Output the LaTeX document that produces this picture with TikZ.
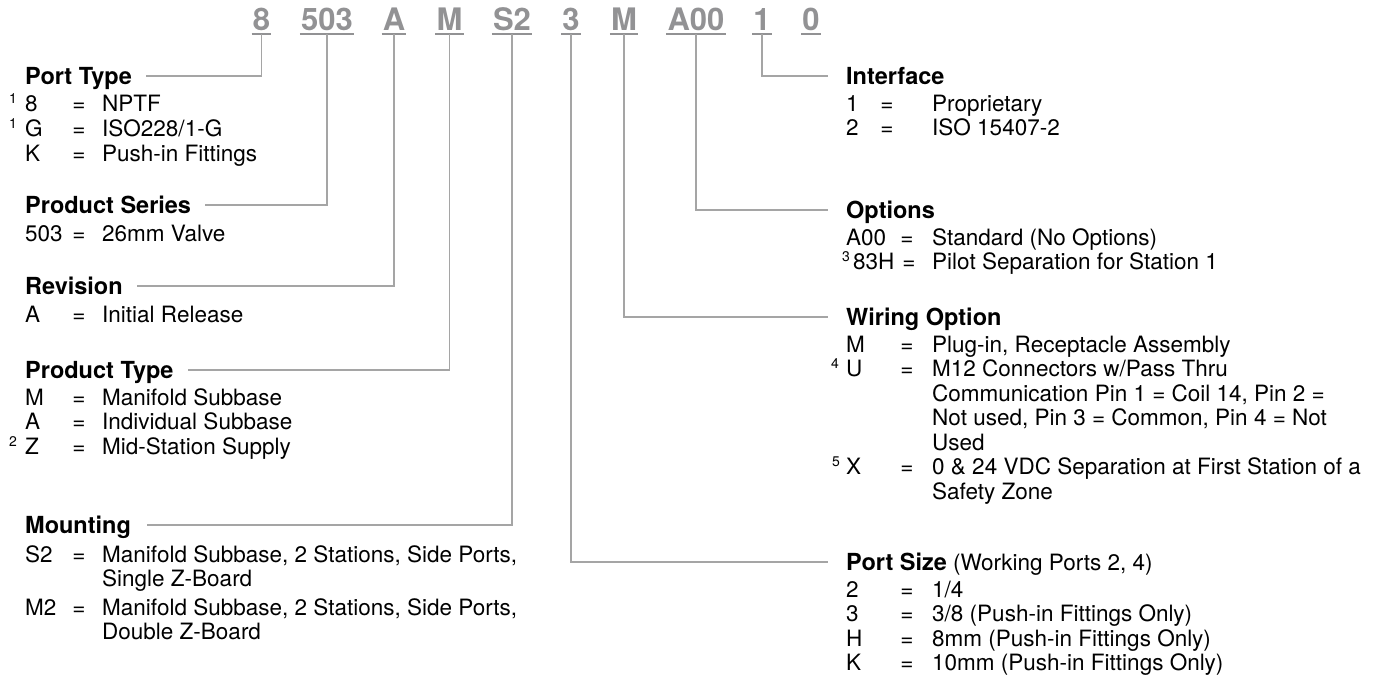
\documentclass[tikz,border=0pt]{standalone}
\usepackage{fontspec}
\setmainfont{TeX Gyre Heros}
\definecolor{codegray}{RGB}{146,146,148}
\definecolor{linegray}{RGB}{165,165,165}
\tikzset{
  body/.style={font=\fontsize{22.5}{24.5}\selectfont, inner sep=0pt, anchor=base west},
  eqs/.style={font=\fontsize{22.5}{24.5}\selectfont, inner sep=0pt, anchor=base},
  hdr/.style={font=\fontsize{23.5}{26}\selectfont\bfseries, inner sep=0pt, anchor=base west, text height=17pt, text depth=0pt},
  supx/.style={font=\fontsize{14}{16}\selectfont, inner sep=0pt, anchor=base east},
  codeitem/.style={font=\fontsize{31}{34}\selectfont\bfseries, text=codegray, inner xsep=1pt, inner ysep=3.5pt, text height=22.3pt, text depth=0pt, anchor=base},
  uline/.style={draw=codegray, line width=1.6pt},
  conn/.style={draw=linegray, line width=1.2pt},
}
\newcommand{\krow}[7]{%
  \node[body] (#1c) at (#2,#5) {#6};
  \node[eqs] (#1e) at (#3,#5) {=};
  \node[body] (#1v) at (#4,#5) {#7};}
\begin{document}
\begin{tikzpicture}[x=1pt,y=-1pt]
\useasboundingbox (0,0) rectangle (1378,694);
% code row
\node[codeitem] (c8) at (261.5,30) {8};
\node[codeitem] (c503) at (327,30) {503};
\node[codeitem] (cA) at (394,30) {A};
\node[codeitem] (cM) at (449.5,30) {M};
\node[codeitem] (cS) at (512,30) {S2};
\node[codeitem] (c3) at (571,30) {3};
\node[codeitem] (cW) at (624,30) {M};
\node[codeitem] (cO) at (696,30) {A00};
\node[codeitem] (c1) at (762,30) {1};
\node[codeitem] (c0) at (811,30) {0};
\foreach \n in {c8,c503,cA,cM,cS,c3,cW,cO,c1,c0}
  \draw[uline] (\n.south west) -- (\n.south east);

% left column
\node[hdr] (hPort) at (25,84.5) {Port Type};
\krow{pa}{25}{79}{102}{111}{8}{NPTF}
\krow{pb}{25}{79}{102}{136}{G}{ISO228/1-G}
\krow{pc}{25}{79}{102}{161}{K}{Push-in Fittings}
\node[supx] (spa) at (17,103) {1};
\node[supx] (spb) at (17,128) {1};

\node[hdr] (hSer) at (25,213.5) {Product Series};
\krow{sa}{25}{79}{102}{241}{503}{26mm Valve}

\node[hdr] (hRev) at (25,294.5) {Revision};
\krow{ra}{25}{79}{102}{322}{A}{Initial Release}

\node[hdr] (hTyp) at (25,378.5) {Product Type};
\krow{ta}{25}{79}{102}{405}{M}{Manifold Subbase}
\krow{tb}{25}{79}{102}{429.5}{A}{Individual Subbase}
\krow{tc}{25}{79}{102}{454}{Z}{Mid-Station Supply}
\node[supx] (stc) at (17,446) {2};

\node[hdr] (hMnt) at (25,533.5) {Mounting};
\krow{ma}{25}{79}{102}{562}{S2}{Manifold Subbase, 2 Stations, Side Ports,}
\node[body] (mac) at (102,586.5) {Single Z-Board};
\krow{mb}{25}{79}{102}{615}{M2}{Manifold Subbase, 2 Stations, Side Ports,}
\node[body] (mbc) at (102,639.5) {Double Z-Board};

% right column
\node[hdr] (hInt) at (846,84.5) {Interface};
\krow{ia}{846}{887}{932}{111}{1}{Proprietary}
\krow{ib}{846}{887}{932}{135.5}{2}{ISO 15407-2}

\node[hdr] (hOpt) at (846,218.5) {Options};
\krow{oa}{846}{907}{932}{245}{A00}{Standard (No Options)}
\krow{ob}{853}{909}{932}{269.5}{83H}{Pilot Separation for Station 1}
\node[supx] (sob) at (850,261.5) {3};

\node[hdr] (hWir) at (846,325.5) {Wiring Option};
\krow{wa}{846}{907}{932}{352}{M}{Plug-in, Receptacle Assembly}
\krow{wb}{846}{907}{932}{376.5}{U}{M12 Connectors w/Pass Thru}
\node[body] (wb2) at (932,401) {Communication Pin 1 = Coil 14, Pin 2 =};
\node[body] (wb3) at (932,425.5) {Not used, Pin 3 = Common, Pin 4 = Not};
\node[body] (wb4) at (932,450) {Used};
\krow{wc}{846}{907}{932}{474.5}{X}{0 \& 24 VDC Separation at First Station of a}
\node[body] (wc2) at (932,499) {Safety Zone};
\node[supx] (swb) at (839,368.5) {4};
\node[supx] (swc) at (840,466.5) {5};

\node[hdr] (hSiz) at (846,570.5) {Port Size\mdseries\fontsize{22.5}{24.5}\selectfont{} (Working Ports 2, 4)};
\krow{za}{846}{907}{932}{597}{2}{1/4}
\krow{zb}{846}{907}{932}{621.5}{3}{3/8 (Push-in Fittings Only)}
\krow{zc}{846}{907}{932}{646}{H}{8mm (Push-in Fittings Only)}
\krow{zd}{846}{907}{932}{670.5}{K}{10mm (Push-in Fittings Only)}

% connectors
\draw[conn] (c8.south) |- ([xshift=14pt]hPort.east);
\draw[conn] (c503.south) |- ([xshift=14pt]hSer.east);
\draw[conn] (cA.south) |- ([xshift=14pt]hRev.east);
\draw[conn] (cM.south) |- ([xshift=14pt]hTyp.east);
\draw[conn] (cS.south) |- ([xshift=16pt]hMnt.east);
\draw[conn] (c3.south) |- ([xshift=-18pt]hSiz.west);
\draw[conn] (cW.south) |- ([xshift=-18pt]hWir.west);
\draw[conn] (cO.south) |- ([xshift=-18pt]hOpt.west);
\draw[conn] (c1.south) |- ([xshift=-18pt]hInt.west);
\end{tikzpicture}
\end{document}
